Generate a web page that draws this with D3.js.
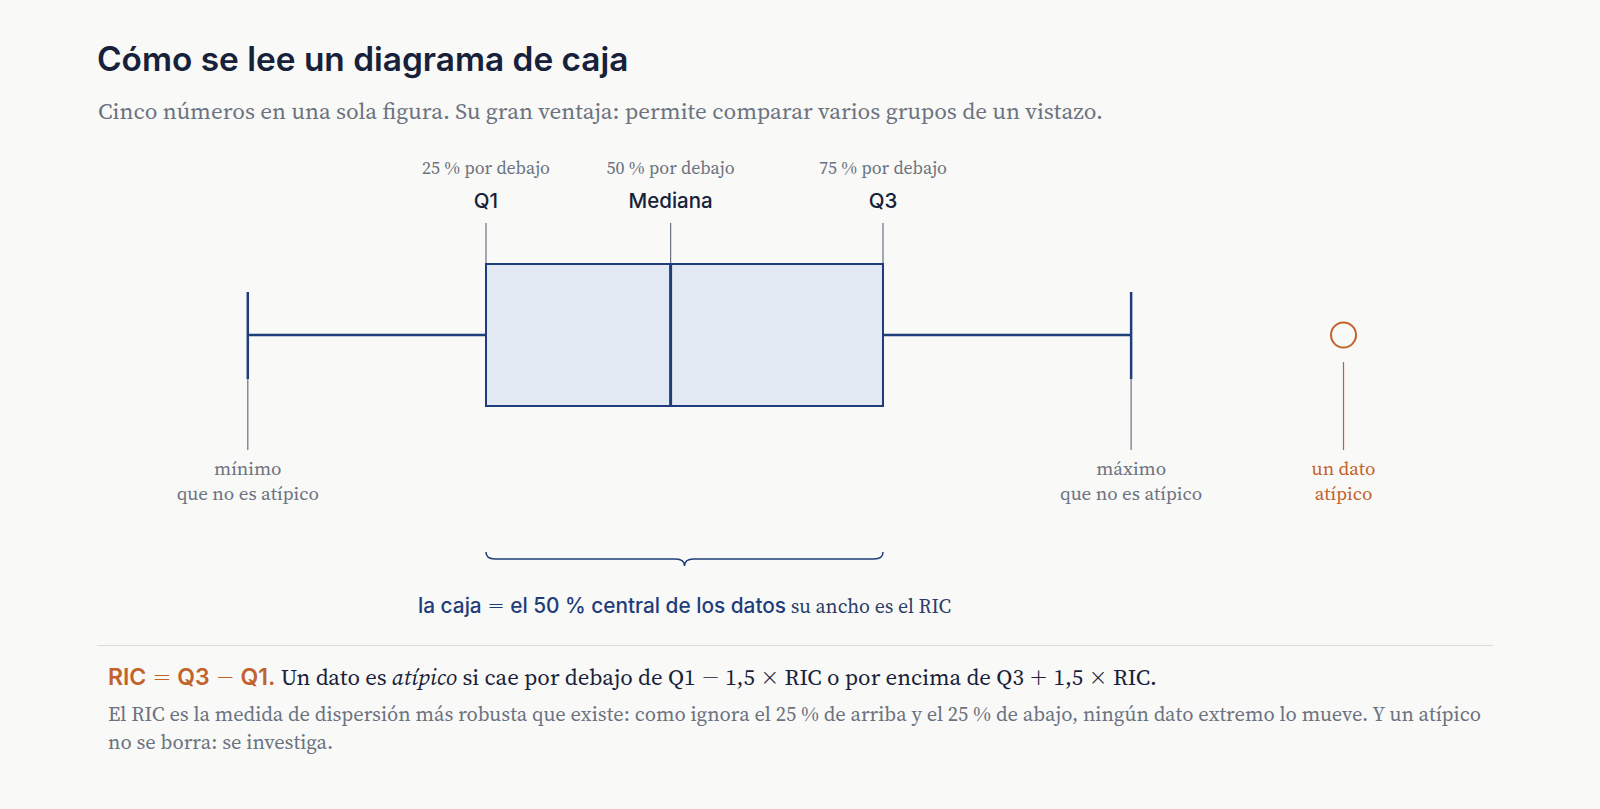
<!DOCTYPE html>
<html><head><meta charset="utf-8">
<script src="https://cdn.jsdelivr.net/npm/d3@7"></script>
<style>
html,body{margin:0;padding:0;background:#f9f9f7;}
svg{display:block;}
</style></head>
<body>
<svg id="chart" width="1600" height="809"></svg>
<script>
// ---- data ----
const statNames = ["min", "q1", "median", "q3", "max"];
const statValues = [2, 14, 23.3, 34, 46.5];
const outlierValues = [57.2];
const topLabels = ["25 % por debajo", "50 % por debajo", "75 % por debajo"];
const topNames = ["Q1", "Mediana", "Q3"];
const bottomLabels = [["mínimo", "que no es atípico"], ["máximo", "que no es atípico"]];
const outlierLabel = ["un dato", "atípico"];
const titleText = "Cómo se lee un diagrama de caja";
const subtitleText = "Cinco números en una sola figura. Su gran ventaja: permite comparar varios grupos de un vistazo.";
const footerLines = [
  "El RIC es la medida de dispersión más robusta que existe: como ignora el 25 % de arriba y el 25 % de abajo, ningún dato extremo lo mueve. Y un atípico",
  "no se borra: se investiga."
];

const SANS = "Inter, 'Noto Sans', sans-serif";
const SERIF = "'Source Serif 4', 'Source Serif Pro', 'Noto Serif', 'DejaVu Serif', serif";
const SYM = "'DejaVu Sans', sans-serif";
const NAVY = "#1f3d7a", INK = "#172139", GRAY = "#6b7280", ORANGE = "#c2622d";

const svg = d3.select("#chart");
svg.append("rect").attr("width", 1600).attr("height", 809).attr("fill", "#f9f9f7");

const x = d3.scaleLinear().domain([statValues[1], statValues[3]]).range([486, 883]);
const [vmin, vq1, vmed, vq3, vmax] = statValues;
const yMid = 335, boxTop = 264, boxBot = 406;

// helper: text with math symbols drawn in a lighter symbol font
function richText(sel, str, fontFamily, size, weight, fill, style) {
  const parts = str.split(/([=−×+])/);
  parts.forEach(pt => {
    if (pt === "") return;
    const sym = /^[=−×+]$/.test(pt);
    sel.append("tspan").text(pt)
      .attr("font-family", sym ? SYM : fontFamily)
      .attr("font-weight", sym ? 300 : weight)
      .attr("font-style", style || "normal")
      .attr("font-size", size)
      .attr("fill", fill);
  });
}

// title
svg.append("text").attr("x", 97).attr("y", 71).text(titleText)
  .attr("font-family", SANS).attr("font-weight", 600).attr("font-size", 33.4).attr("fill", INK);
svg.append("text").attr("x", 98).attr("y", 119).text(subtitleText)
  .attr("font-family", SERIF).attr("font-size", 23.1).attr("fill", GRAY);

const g = svg.append("g");
// whiskers
g.append("line").attr("x1", x(vmin)).attr("x2", x(vq1)).attr("y1", yMid).attr("y2", yMid)
  .attr("stroke", NAVY).attr("stroke-width", 2.5);
g.append("line").attr("x1", x(vq3)).attr("x2", x(vmax)).attr("y1", yMid).attr("y2", yMid)
  .attr("stroke", NAVY).attr("stroke-width", 2.5);
[vmin, vmax].forEach(v => {
  g.append("line").attr("x1", x(v)).attr("x2", x(v)).attr("y1", 379).attr("y2", 450)
    .attr("stroke", GRAY).attr("stroke-width", 1.2);
  g.append("line").attr("x1", x(v)).attr("x2", x(v)).attr("y1", 292).attr("y2", 379)
    .attr("stroke", NAVY).attr("stroke-width", 2.5);
});
// box
g.append("rect").attr("x", x(vq1)).attr("y", boxTop).attr("width", x(vq3) - x(vq1)).attr("height", boxBot - boxTop)
  .attr("fill", "#e3e9f3").attr("stroke", NAVY).attr("stroke-width", 2);
g.append("line").attr("x1", x(vmed)).attr("x2", x(vmed)).attr("y1", boxTop).attr("y2", boxBot)
  .attr("stroke", NAVY).attr("stroke-width", 3);

// top leader lines + labels
[vq1, vmed, vq3].forEach((v, i) => {
  g.append("line").attr("x1", x(v)).attr("x2", x(v)).attr("y1", 223).attr("y2", boxTop - 1)
    .attr("stroke", GRAY).attr("stroke-width", 1.2);
  g.append("text").attr("x", x(v)).attr("y", 174).attr("text-anchor", "middle").text(topLabels[i])
    .attr("font-family", SERIF).attr("font-size", 18).attr("fill", GRAY);
  g.append("text").attr("x", x(v)).attr("y", 208).attr("text-anchor", "middle").text(topNames[i])
    .attr("font-family", SANS).attr("font-weight", 500).attr("font-size", 20.5).attr("fill", INK);
});

// bottom labels
[vmin, vmax].forEach((v, i) => {
  const t = g.append("text").attr("text-anchor", "middle").attr("font-family", SERIF)
    .attr("font-size", 19).attr("fill", GRAY);
  bottomLabels[i].forEach((s, j) => t.append("tspan").attr("x", x(v)).attr("y", 475 + j * 25).text(s));
});

// outlier
outlierValues.forEach(v => {
  g.append("circle").attr("cx", x(v)).attr("cy", yMid).attr("r", 12.5)
    .attr("fill", "none").attr("stroke", ORANGE).attr("stroke-width", 2);
  g.append("line").attr("x1", x(v)).attr("x2", x(v)).attr("y1", 362).attr("y2", 450)
    .attr("stroke", ORANGE).attr("stroke-width", 1.2);
  const t = g.append("text").attr("text-anchor", "middle").attr("font-family", SERIF)
    .attr("font-size", 19).attr("fill", ORANGE);
  outlierLabel.forEach((s, j) => t.append("tspan").attr("x", x(v)).attr("y", 475 + j * 25).text(s));
});

// brace
const x1 = x(vq1), x2 = x(vq3), cx = (x1 + x2) / 2, y0 = 552, y1 = 559, y2 = 566, r = 9;
const p = d3.path();
p.moveTo(x1, y0);
p.quadraticCurveTo(x1, y1, x1 + r, y1);
p.lineTo(cx - r, y1);
p.quadraticCurveTo(cx, y1, cx, y2);
p.quadraticCurveTo(cx, y1, cx + r, y1);
p.lineTo(x2 - r, y1);
p.quadraticCurveTo(x2, y1, x2, y0);
g.append("path").attr("d", p.toString()).attr("fill", "none").attr("stroke", NAVY).attr("stroke-width", 1.5);

const cap = g.append("text").attr("x", cx).attr("y", 613).attr("text-anchor", "middle");
richText(cap, "la caja = el 50 % central de los datos", SANS, 20.8, 500, NAVY);
cap.append("tspan").text(" su ancho es el RIC")
  .attr("font-family", SERIF).attr("font-size", 19.9).attr("fill", "#2b3d66");

// separator
svg.append("line").attr("x1", 97).attr("x2", 1493).attr("y1", 645.5).attr("y2", 645.5)
  .attr("stroke", "#dcdcda").attr("stroke-width", 1);

// footer
const f1 = svg.append("text").attr("x", 108).attr("y", 685);
richText(f1, "RIC = Q3 − Q1.", SANS, 23, 600, ORANGE);
f1.append("tspan").text(" Un dato es ").attr("font-family", SERIF).attr("font-size", 22.8).attr("fill", INK);
f1.append("tspan").text("atípico").attr("font-family", SERIF).attr("font-style", "italic").attr("font-size", 22.8).attr("fill", INK);
richText(f1, " si cae por debajo de Q1 − 1,5 × RIC o por encima de Q3 + 1,5 × RIC.", SERIF, 22.8, 400, INK);

const f2 = svg.append("text").attr("font-family", SERIF).attr("font-size", 20.5).attr("fill", GRAY);
footerLines.forEach((s, j) => f2.append("tspan").attr("x", 108).attr("y", 721 + j * 27.5).text(s));
</script>
</body></html>
